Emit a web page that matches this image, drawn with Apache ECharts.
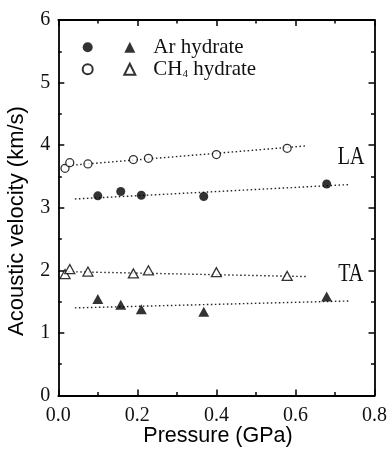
<!DOCTYPE html>
<html>
<head>
<meta charset="utf-8">
<script src="https://cdn.jsdelivr.net/npm/echarts@6/dist/echarts.min.js"></script>
<style>html,body{margin:0;padding:0;background:#fff}#c{width:390px;height:451px}</style>
</head>
<body>
<div id="c"></div>
<script>
// ---- data ----
const pressureCH4 = [0.017, 0.029, 0.075, 0.19, 0.228, 0.40, 0.579];
const laCH4 = [3.63, 3.72, 3.70, 3.77, 3.79, 3.85, 3.95];
const taCH4 = [1.94, 2.02, 1.98, 1.95, 2.00, 1.97, 1.91];
const pressureAr = [0.10, 0.158, 0.21, 0.368, 0.679];
const laAr = [3.19, 3.26, 3.20, 3.18, 3.38];
const taAr = [1.54, 1.45, 1.38, 1.34, 1.58];
// dotted guide lines (end points)
const fitPressureCH4 = [0.015, 0.63];
const fitLaCH4 = [3.67, 3.99];
const fitTaCH4 = [1.98, 1.90];
const fitPressureAr = [0.042, 0.735];
const fitLaAr = [3.14, 3.37];
const fitTaAr = [1.40, 1.51];
// annotations
const annoText = ['LA', 'TA'];
const annoX = [0.741, 0.740];
const annoY = [3.81, 1.94];
const xTicks = [0, 0.2, 0.4, 0.6, 0.8];
const yTicks = [0, 1, 2, 3, 4, 5, 6];

const zip = (xs, ys) => xs.map((x, i) => [x, ys[i]]);
const serif = 'Liberation Serif';
const sans = 'Liberation Sans';

const axisCommon = {
  type: 'value',
  axisLine: { show: true, onZero: false, lineStyle: { color: '#000', width: 1.8 } },
  axisTick: { show: true, inside: true, length: 6, lineStyle: { color: '#000', width: 1.5 } },
  minorTick: { show: true, splitNumber: 2, length: 3.5, lineStyle: { color: '#000', width: 1.5 } },
  splitLine: { show: false },
  minorSplitLine: { show: false }
};
const xBase = Object.assign({}, axisCommon, { min: xTicks[0], max: xTicks[xTicks.length - 1], interval: 0.2 });
const yBase = Object.assign({}, axisCommon, { min: yTicks[0], max: yTicks[yTicks.length - 1], interval: 1 });

const dotted = { color: '#222', width: 1.4, type: [1.5, 2.5] };
function fitSeries(xs, ys) {
  return { type: 'line', data: zip(xs, ys), symbol: 'none', silent: true, z: 1,
           lineStyle: dotted, emphasis: { disabled: true } };
}

const chart = echarts.init(document.getElementById('c'), null, { renderer: 'canvas' });
chart.setOption({
  animation: false,
  backgroundColor: '#fff',
  grid: { left: 58.3, right: 12.3, top: 20, bottom: 55.5 },
  xAxis: [
    Object.assign({}, xBase, { position: 'bottom',
      axisLabel: { show: true, margin: 10, fontFamily: serif, fontSize: 20, color: '#111',
                   formatter: v => v.toFixed(1) } }),
    Object.assign({}, xBase, { position: 'top', axisLabel: { show: false } })
  ],
  yAxis: [
    Object.assign({}, yBase, { position: 'left',
      axisLabel: { show: true, margin: 8, fontFamily: serif, fontSize: 20, color: '#111' } }),
    Object.assign({}, yBase, { position: 'right', axisLabel: { show: false } })
  ],
  legend: [
    {
      data: ['Ar LA', 'CH4 LA'], orient: 'vertical', left: 76.7, top: 31.5,
      itemWidth: 10, itemHeight: 10, itemGap: 0.5, selectedMode: false,
      formatter: () => ' ',
      textStyle: { fontFamily: serif, fontSize: 21, lineHeight: 21.5 }
    },
    {
      data: ['Ar TA', 'CH4 TA'], orient: 'vertical', left: 118.3, top: 31.5,
      itemWidth: 11, itemHeight: 11, itemGap: 0.5, selectedMode: false,
      formatter: name => name === 'Ar TA' ? '{sp| }{n|Ar hydrate}' : '{sp| }{n|CH}{s|4}{n| hydrate}',
      textStyle: {
        fontFamily: serif, fontSize: 21, lineHeight: 21.5, color: '#111',
        rich: {
          sp: { width: 13, fontSize: 21, lineHeight: 21.5 },
          n: { fontFamily: serif, fontSize: 21, lineHeight: 21.5, color: '#111' },
          s: { fontFamily: serif, fontSize: 11, lineHeight: 2, verticalAlign: 'bottom', color: '#111' }
        }
      }
    }
  ],
  graphic: [
    { type: 'text', x: 218, y: 436.5, silent: true,
      style: { text: 'Pressure (GPa)', fontFamily: sans, fontSize: 21.5, fill: '#000',
               textAlign: 'center', textVerticalAlign: 'middle' } },
    { type: 'text', x: 17, y: 221, rotation: Math.PI / 2, silent: true,
      style: { text: 'Acoustic velocity (km/s)', fontFamily: sans, fontSize: 22, fill: '#000',
               textAlign: 'center', textVerticalAlign: 'middle' } }
  ],
  series: [
    fitSeries(fitPressureCH4, fitLaCH4),
    fitSeries(fitPressureAr, fitLaAr),
    fitSeries(fitPressureCH4, fitTaCH4),
    fitSeries(fitPressureAr, fitTaAr),
    { name: 'Ar LA', type: 'scatter', data: zip(pressureAr, laAr), symbol: 'circle', symbolSize: 9, z: 3,
      itemStyle: { color: '#000' } },
    { name: 'CH4 LA', type: 'scatter', data: zip(pressureCH4, laCH4), symbol: 'circle', symbolSize: 8, z: 3,
      itemStyle: { color: '#fff', borderColor: '#000', borderWidth: 1.3 } },
    { name: 'Ar TA', type: 'scatter', data: zip(pressureAr, taAr), symbol: 'triangle', symbolSize: [11, 10], z: 3,
      itemStyle: { color: '#000' } },
    { name: 'CH4 TA', type: 'scatter', data: zip(pressureCH4, taCH4), symbol: 'triangle', symbolSize: [10, 9], z: 3,
      itemStyle: { color: '#fff', borderColor: '#000', borderWidth: 1.3 } }
  ]
});
// LA / TA annotations placed through the chart's own scales
const annoGraphics = annoText.map((t, i) => {
  const p = chart.convertToPixel({ gridIndex: 0 }, [annoX[i], annoY[i]]);
  return { id: 'anno' + i, type: 'text', x: p[0], y: p[1], scaleX: 0.8, silent: true,
           style: { text: t, fontFamily: serif, fontSize: 25, fill: '#111',
                    textAlign: 'center', textVerticalAlign: 'middle' } };
});
chart.setOption({ graphic: annoGraphics });
</script>
</body>
</html>
